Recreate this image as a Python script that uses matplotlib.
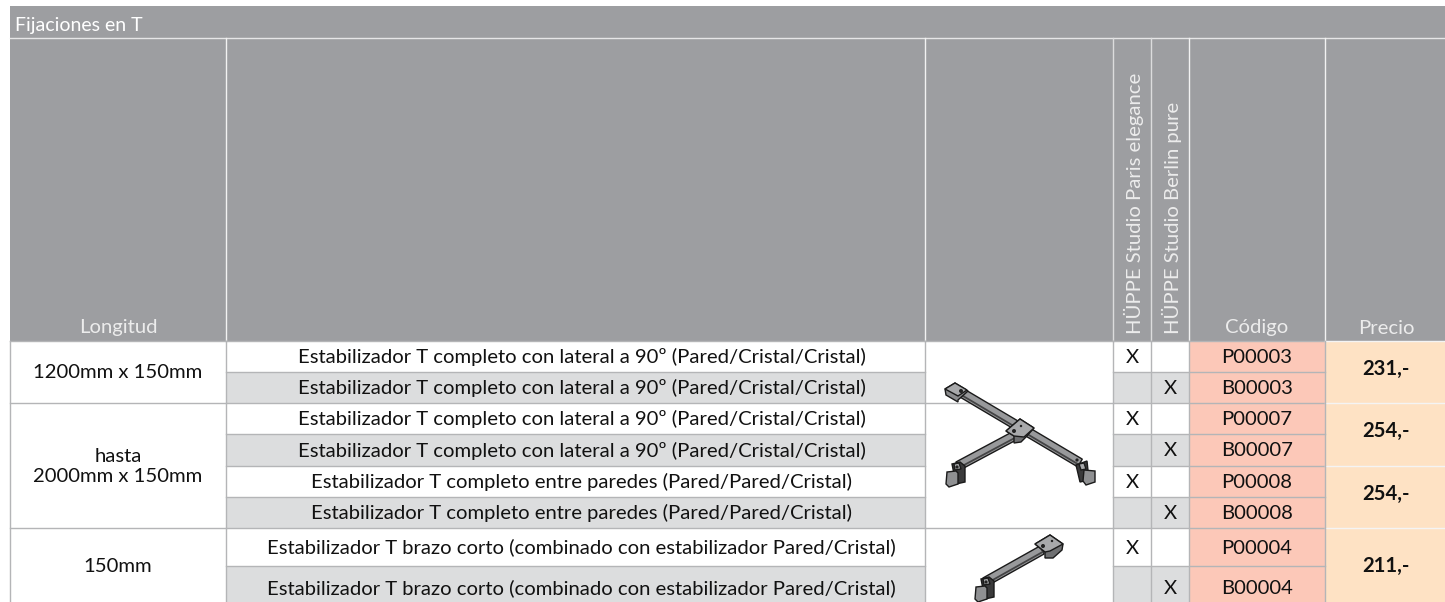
#!/usr/bin/env python3
# -*- coding: utf-8 -*-
# Price table "Fijaciones en T" drawn in pixel coordinates
import matplotlib
matplotlib.use("Agg")
import matplotlib.pyplot as plt
from matplotlib.patches import Polygon, Rectangle, Circle

plt.rcParams['font.family'] = ['Lato', 'DejaVu Sans']

title = "Fijaciones en T"
col_longitud = "Longitud"
col_paris = "HÜPPE Studio Paris elegance"
col_berlin = "HÜPPE Studio Berlin pure"
col_codigo = "Código"
col_precio = "Precio"

descriptions = [
    "Estabilizador T completo con lateral a 90º (Pared/Cristal/Cristal)",
    "Estabilizador T completo con lateral a 90º (Pared/Cristal/Cristal)",
    "Estabilizador T completo con lateral a 90º (Pared/Cristal/Cristal)",
    "Estabilizador T completo con lateral a 90º (Pared/Cristal/Cristal)",
    "Estabilizador T completo entre paredes (Pared/Pared/Cristal)",
    "Estabilizador T completo entre paredes (Pared/Pared/Cristal)",
    "Estabilizador T brazo corto (combinado con estabilizador Pared/Cristal)",
    "Estabilizador T brazo corto (combinado con estabilizador Pared/Cristal)",
]
codes = ["P00003", "B00003", "P00007", "B00007", "P00008", "B00008", "P00004", "B00004"]
# (first row, last row, text)
lengths = [(0, 1, "1200mm x 150mm"), (2, 5, "hasta\n2000mm x 150mm"), (6, 7, "150mm")]
prices = [(0, 1, "231,-"), (2, 3, "254,-"), (4, 5, "254,-"), (6, 7, "211,-")]

# layout, pixels; the last row is cut by the bottom of the picture
row_y = [341, 372, 403, 434, 466, 497, 528, 566, 610]
col_x = [10, 226, 925, 1113, 1151, 1189, 1325, 1445]

GREY = '#9d9ea1'
STRIPE = '#dcddde'
LINE = '#b4b5b7'
PINK = '#fcc8b8'
PEACH = '#fee2c4'
TEXT = '#111111'
DARK = '#1a1a1a'
FS = 14.55


def bar(ax, x0, y0, x1, y1, w):
    # one arm of the fitting, dark outline and a dark lower stripe
    dx, dy = x1 - x0, y1 - y0
    n = (dx**2 + dy**2)**0.5
    nx, ny = -dy / n * w, dx / n * w
    if ny < 0:
        nx, ny = -nx, -ny
    ax.add_patch(Polygon([(x0 - nx, y0 - ny), (x1 - nx, y1 - ny), (x1 + nx, y1 + ny), (x0 + nx, y0 + ny)],
                         fc='#98999b', ec=DARK, lw=1.0, zorder=3))
    ax.plot([x0 + nx * 0.45, x1 + nx * 0.45], [y0 + ny * 0.45, y1 + ny * 0.45], color='#444445', lw=1.3, zorder=4)


def block(ax, pts, fc='#8b8c8e'):
    ax.add_patch(Polygon(pts, fc=fc, ec=DARK, lw=1.0, zorder=5))


def dot(ax, x, y, r):
    ax.add_patch(Circle((x, y), r, fc='#222222', ec='none', zorder=7))


def clamp_left(ax, dx, dy):
    # glass clamp with the pad on the left side
    x, y = 940 + dx, 455 + dy
    block(ax, [(x + 12, y + 9), (x + 20, y + 7), (x + 25, y + 11), (x + 25, y + 27), (x + 16, y + 29)], '#3a3a3b')
    block(ax, [(x + 14, y + 9), (x + 19, y + 8), (x + 21, y + 14), (x + 15, y + 15)], '#a8a9ab')
    block(ax, [(x + 7, y + 17), (x + 16, y + 16), (x + 18, y + 18), (x + 18, y + 29), (x + 9, y + 32), (x + 6, y + 29)], '#8f9092')
    dot(ax, x + 17, y + 12, 1.6)


def clamp_right(ax):
    block(ax, [(1076, 465), (1087, 461), (1089, 480), (1080, 482)], '#3a3a3b')
    block(ax, [(1079, 464), (1084, 463), (1086, 469), (1081, 470)], '#a8a9ab')
    block(ax, [(1084, 470), (1095, 471), (1095, 482), (1086, 485), (1083, 481)], '#8f9092')
    dot(ax, 1077, 460, 1.6)


def big_fitting(ax):
    bar(ax, 962, 393, 1080, 463, 4.5)
    bar(ax, 1016, 435, 958, 466, 4.5)
    block(ax, [(945, 389), (955, 383), (968, 391), (958, 400), (958, 402), (946, 395)])
    block(ax, [(945, 389), (955, 383), (967, 390), (958, 396)], '#a8a9ab')
    dot(ax, 961, 391, 2.0)
    block(ax, [(1006, 431), (1020, 419), (1034, 428), (1026, 437), (1021, 442), (1014, 443), (1014, 436)], '#6f7072')
    block(ax, [(1006, 431), (1020, 419), (1034, 428), (1024, 437), (1014, 436)], '#a8a9ab')
    dot(ax, 1021, 426, 1.2)
    dot(ax, 1014, 431, 2.0)
    clamp_left(ax, 0, 0)
    clamp_right(ax)


def small_fitting(ax):
    bar(ax, 985, 582, 1042, 550, 4.5)
    block(ax, [(1035, 544), (1050, 535), (1063, 544), (1062, 550), (1053, 558), (1045, 558), (1045, 552)], '#6f7072')
    block(ax, [(1035, 544), (1050, 535), (1063, 544), (1050, 551), (1045, 552)], '#a8a9ab')
    dot(ax, 1052, 541, 1.2)
    dot(ax, 1043, 546, 2.0)
    clamp_left(ax, 29, 115)


fig = plt.figure(figsize=(14.45, 6.02), dpi=100)
ax = fig.add_axes([0, 0, 1, 1])
ax.set_xlim(0, 1445)
ax.set_ylim(602, 0)
ax.axis('off')

# header
ax.add_patch(Rectangle((10, 6), 1435, row_y[0] - 6, fc=GREY, ec='none', zorder=1))
ax.plot([10, 1445], [38, 38], color='#e6e6e7', lw=1.0, zorder=2)
for x in col_x[1:-1]:
    c = '#f2f2f2' if x in (226, 925, 1189, 1325) else '#dcdcdd'
    ax.plot([x, x], [38, row_y[0]], color=c, lw=1.0, zorder=2)

hdr = '#ececec'
ax.text(15, 31, title, color='white', fontsize=14.0, va='baseline', ha='left', zorder=3)
ax.text(118, 333.5, col_longitud, color=hdr, fontsize=FS, ha='center', va='baseline', zorder=3)
ax.text(1257, 333.5, col_codigo, color=hdr, fontsize=FS, ha='center', va='baseline', zorder=3)
ax.text(1386, 333.5, col_precio, color=hdr, fontsize=FS, ha='center', va='baseline', zorder=3)
ax.text(1141.5, 334, col_paris, color=hdr, fontsize=FS, rotation=90, ha='left', va='baseline',
        rotation_mode='anchor', zorder=3)
ax.text(1179.5, 334, col_berlin, color=hdr, fontsize=FS, rotation=90, ha='left', va='baseline',
        rotation_mode='anchor', zorder=3)

# rows
for i, (desc, code) in enumerate(zip(descriptions, codes)):
    y0, y1 = row_y[i], row_y[i + 1]
    h = y1 - y0
    ym = (y0 + y1) / 2 + 6.5
    if i % 2 == 1:
        ax.add_patch(Rectangle((226, y0), 699, h, fc=STRIPE, ec='none', zorder=1))
        ax.add_patch(Rectangle((1113, y0), 76, h, fc=STRIPE, ec='none', zorder=1))
    ax.add_patch(Rectangle((1189, y0), 136, h, fc=PINK, ec='none', zorder=1))
    ax.plot([226, 925], [y0, y0], color=LINE, lw=1.0, zorder=2)
    ax.plot([1113, 1325], [y0, y0], color=LINE, lw=1.0, zorder=2)
    ax.text(581.5, ym, desc, color=TEXT, fontsize=FS, ha='center', va='baseline', zorder=3)
    ax.text(1257, ym, code, color=TEXT, fontsize=FS, ha='center', va='baseline', zorder=3)
    x_mark = 1132 if i % 2 == 0 else 1170
    ax.text(x_mark, ym, "X", color=TEXT, fontsize=FS, ha='center', va='baseline', zorder=3)

for a, b, txt in lengths:
    ym = (row_y[a] + min(row_y[b + 1], 602)) / 2 + 1
    ax.text(118, ym, txt, color=TEXT, fontsize=FS, ha='center', va='center', zorder=3, linespacing=1.2)
    ax.plot([10, 226], [row_y[a], row_y[a]], color=LINE, lw=1.0, zorder=2)
    ax.plot([925, 1113], [row_y[a], row_y[a]], color=LINE, lw=1.0, zorder=2)

for a, b, txt in prices:
    ym = (row_y[a] + row_y[b + 1]) / 2 - 3.5
    ax.add_patch(Rectangle((1325, row_y[a]), 120, row_y[b + 1] - row_y[a], fc=PEACH, ec='none', zorder=1))
    ax.plot([1325, 1445], [row_y[a], row_y[a]], color='#f4f4f4', lw=1.0, zorder=2)
    ax.text(1386, ym, txt, color=TEXT, fontsize=FS, fontweight='bold', ha='center', va='center', zorder=3)

# vertical lines of the body
for x in col_x[:-1]:
    ax.plot([x, x], [row_y[0], 602], color=LINE, lw=1.0, zorder=2)

big_fitting(ax)
small_fitting(ax)

fig.savefig("out.png", dpi=100, facecolor='white')
plt.close(fig)
